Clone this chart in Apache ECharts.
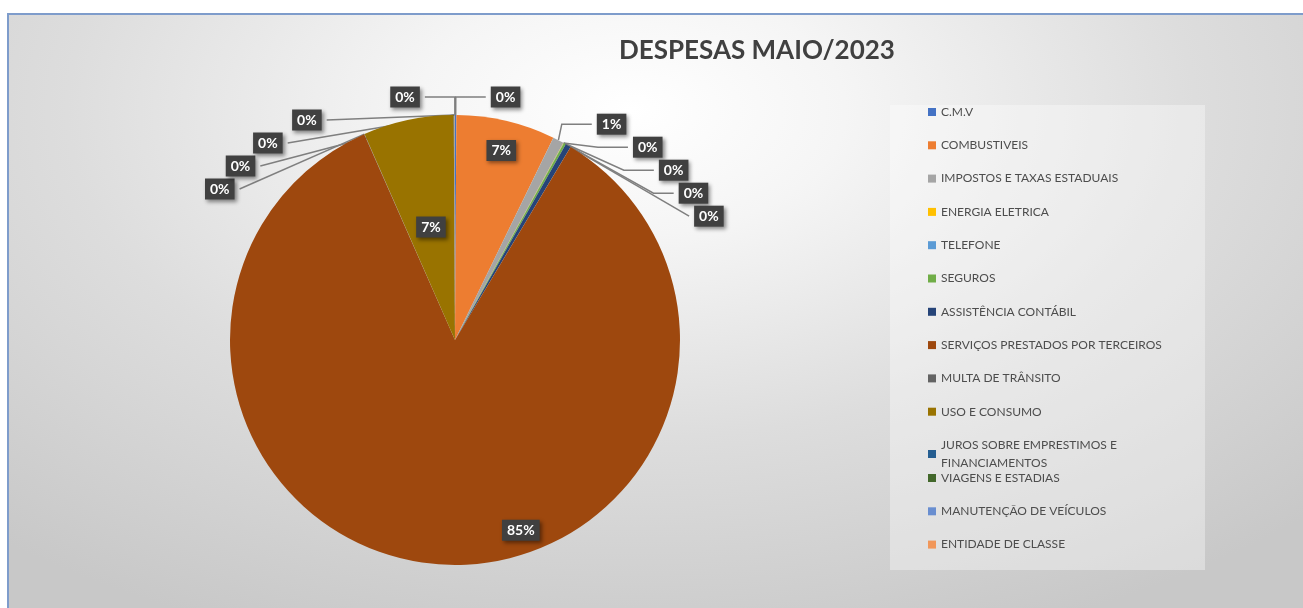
<!DOCTYPE html>
<html>
<head>
<meta charset="utf-8">
<script src="https://cdn.jsdelivr.net/npm/echarts@6/dist/echarts.min.js"></script>
<style>
  html, body { margin: 0; padding: 0; background: #ffffff; }
  #frame {
    position: absolute; left: 7px; top: 13px; width: 1296px; height: 595px;
    border-top: 2px solid #7e9ccb; border-left: 2px solid #7e9ccb;
    background: radial-gradient(ellipse 75% 95% at 48% 16%, #ffffff 0%, #f5f5f5 22%, #dddddd 58%, #c8c8c8 100%);
  }
  #legendBox {
    position: absolute; left: 890px; top: 105px; width: 315px; height: 465px;
    background: rgba(255,255,255,0.35);
  }
  #chart { position: absolute; left: 0; top: 0; width: 1303px; height: 608px; }
</style>
</head>
<body>
<div id="frame"></div>
<div id="legendBox"></div>
<div id="chart"></div>
<script>
const categories = [
  'C.M.V',
  'COMBUSTIVEIS',
  'IMPOSTOS E TAXAS ESTADUAIS',
  'ENERGIA ELETRICA',
  'TELEFONE',
  'SEGUROS',
  'ASSISTÊNCIA CONTÁBIL',
  'SERVIÇOS PRESTADOS POR TERCEIROS',
  'MULTA DE TRÂNSITO',
  'USO E CONSUMO',
  'JUROS SOBRE EMPRESTIMOS E FINANCIAMENTOS',
  'VIAGENS E ESTADIAS',
  'MANUTENÇÃO DE VEÍCULOS',
  'ENTIDADE DE CLASSE'
]
// percent share of each expense
const values = [0.1, 7.1, 0.8, 0.02, 0.02, 0.15, 0.4, 84.8, 0.02, 6.5, 0.03, 0.02, 0.02, 0.02]
const colors = [
  '#4472c4', '#ed7d31', '#a5a5a5', '#ffc000', '#5b9bd5', '#70ad47', '#264478',
  '#9e480e', '#636363', '#997300', '#255e91', '#43682b', '#698ed0', '#f1975a'
]
const insideLabels = ['COMBUSTIVEIS', 'SERVIÇOS PRESTADOS POR TERCEIROS', 'USO E CONSUMO']

// excel wraps the long JUROS entry without pushing the rest down,
// so the legend is split in two blocks
const legendTop = categories.slice(0, 11)
const legendBottom = categories.slice(11)

const chart = echarts.init(document.getElementById('chart'))

const labelBox = {
  color: '#ffffff',
  fontFamily: 'Lato',
  fontWeight: 'bold',
  fontSize: 14,
  backgroundColor: '#404040',
  padding: [4, 5, 3, 5],
  shadowColor: 'rgba(0,0,0,0.45)',
  shadowBlur: 4,
  shadowOffsetX: 2,
  shadowOffsetY: 2
}

const legendBase = {
  orient: 'vertical',
  left: 890,
  padding: [0, 38, 0, 38],
  itemWidth: 8,
  itemHeight: 8,
  itemGap: 15.3,
  icon: 'rect',
  textStyle: {
    fontFamily: 'Lato',
    fontSize: 12,
    color: '#4d4d4d',
    width: 228,
    lineHeight: 18,
    overflow: 'break'
  }
}

const option = {
  backgroundColor: 'transparent',
  color: colors,
  title: {
    text: 'DESPESAS MAIO/2023',
    left: 614,
    top: 33,
    textStyle: { fontFamily: 'Lato', fontWeight: 'bold', fontSize: 26, color: '#404040' }
  },
  legend: [
    Object.assign({}, legendBase, { top: 103, data: legendTop }),
    Object.assign({}, legendBase, { top: 469, data: legendBottom })
  ],
  series: [
    {
      type: 'pie',
      center: [455, 340],
      radius: 225,
      startAngle: 90,
      percentPrecision: 0,
      avoidLabelOverlap: true,
      minShowLabelAngle: 0,
      data: categories.map((name, i) => {
        const item = { name, value: values[i] }
        if (insideLabels.includes(name)) {
          item.label = { position: 'inside' }
        }
        return item
      }),
      itemStyle: { borderWidth: 0 },
      label: Object.assign({ show: true, formatter: '{d}%', position: 'outside' }, labelBox),
      labelLine: {
        show: true,
        length: 18,
        length2: 30,
        lineStyle: { color: '#7f7f7f', width: 1.5 }
      },
      // nudge the two big inside labels to where excel put them
      labelLayout: (p) => {
        if (p.dataIndex === 7) return { dx: 73, dy: 75 }
        if (p.dataIndex === 1) return { dx: 20, dy: -77 }
        return {}
      },
      emphasis: { disabled: true }
    }
  ]
}

chart.setOption(option)
</script>
</body>
</html>
